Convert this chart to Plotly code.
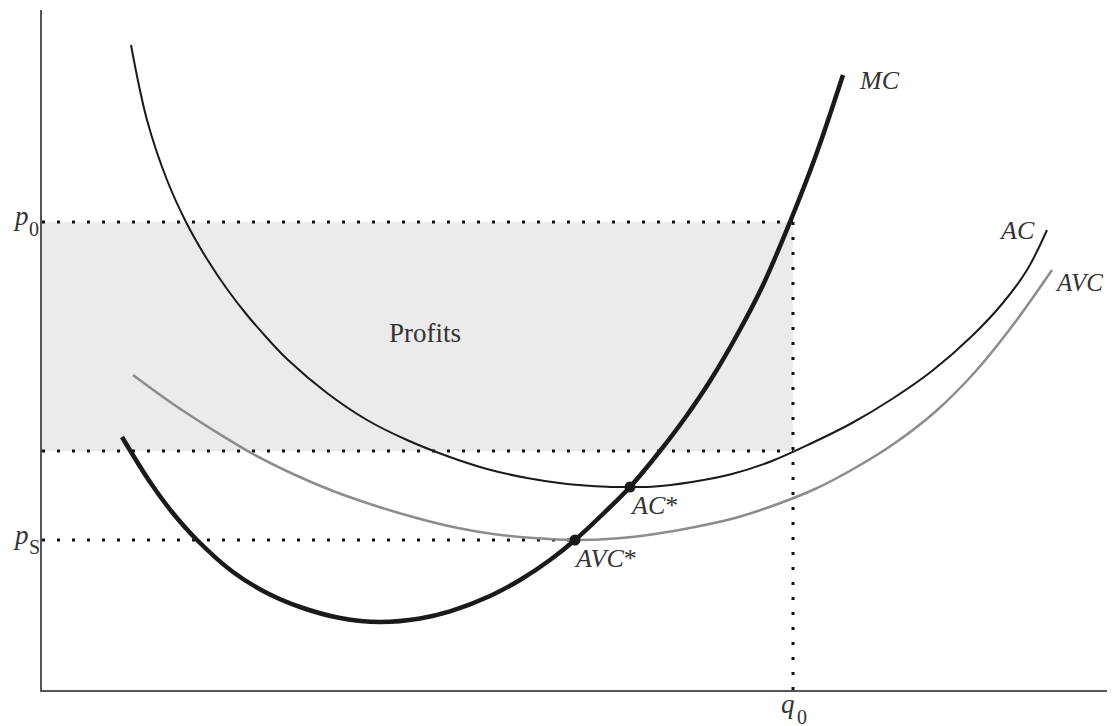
import plotly.graph_objects as go

# Coordinates: quantity (x) and price/cost (y) in chart units
mc_q = [80, 108, 130, 155, 191, 225, 258, 298, 338, 378, 408, 448, 478, 508, 533, 563, 588, 618, 643, 668, 695, 721, 748, 774, 801]
mc_c = [253, 208, 178, 150, 118, 97, 83, 72, 68, 71.5, 78.6, 94, 110, 130, 150, 178, 203, 239, 272, 309, 355, 405, 468, 535, 615]

ac_q = [89, 105, 125, 145, 165, 185, 205, 225, 245, 285, 325, 365, 405, 445, 485, 525, 565, 588, 610, 650, 690, 730, 770, 810, 850, 890, 930, 960, 985, 1005]
ac_c = [645, 570, 510, 466, 431, 401, 375, 352, 331, 297, 270, 250, 234, 221, 212, 206, 203.3, 203, 203.3, 208, 216, 229, 247, 267, 291, 319, 354, 386, 420, 460]

avc_q = [91, 131, 171, 211, 251, 291, 331, 371, 411, 451, 491, 533, 573, 613, 653, 693, 733, 773, 813, 853, 893, 933, 971, 1010]
avc_c = [315, 286, 260, 236, 216, 199, 185, 173, 163, 156, 152, 150, 151.5, 156, 163, 172, 185, 201, 222, 247, 278, 318, 365, 420]

p0 = 468
p_mid = 239
p_s = 150
q0 = 751
q_min = 533   # AVC minimum
q_ac = 588    # AC minimum
ac_star = 203
X_MAX = 1068
Y_MAX = 680

FONT = "Liberation Serif"

fig = go.Figure()

# Profits rectangle
fig.add_trace(go.Scatter(
    x=[0, q0, q0, 0, 0], y=[p_mid, p_mid, p0, p0, p_mid],
    fill="toself", fillcolor="#ebebeb", line=dict(width=0),
    mode="lines", hoverinfo="skip", showlegend=False))

dot = dict(color="#111", width=3, dash="3px,12px")
fig.add_trace(go.Scatter(x=[0, q0], y=[p0, p0], mode="lines", line=dot, showlegend=False))
fig.add_trace(go.Scatter(x=[0, q0], y=[p_mid, p_mid], mode="lines", line=dot, showlegend=False))
fig.add_trace(go.Scatter(x=[0, q_min], y=[p_s, p_s], mode="lines", line=dot, showlegend=False))
fig.add_trace(go.Scatter(x=[q0, q0], y=[p0, 0], mode="lines", line=dot, showlegend=False))

fig.add_trace(go.Scatter(x=avc_q, y=avc_c, mode="lines", line=dict(color="#8c8c8c", width=2.5, shape="spline"), showlegend=False))
fig.add_trace(go.Scatter(x=ac_q, y=ac_c, mode="lines", line=dict(color="#1a1a1a", width=2, shape="spline"), showlegend=False))
fig.add_trace(go.Scatter(x=mc_q, y=mc_c, mode="lines", line=dict(color="#1a1a1a", width=4.5, shape="spline"), showlegend=False))

fig.add_trace(go.Scatter(x=[q_min, q_ac], y=[p_s, ac_star], mode="markers",
                         marker=dict(color="#1a1a1a", size=11), showlegend=False))

def ann(x, y, text, size=26, xanchor="center", xref="x", yref="y"):
    fig.add_annotation(x=x, y=y, text=text, showarrow=False, xanchor=xanchor, yanchor="middle",
                       xref=xref, yref=yref,
                       font=dict(family=FONT, size=size, color="#333"))

# axis symbols (main letter + subscript), placed relative to the plot frame
ann(-21 / X_MAX, p0 + 6, "<i>p</i>", 27, xref="paper")
ann(-8 / X_MAX, p0 - 7, "0", 20, xref="paper")
ann(-21 / X_MAX, p_s + 5, "<i>p</i>", 27, xref="paper")
ann(-8 / X_MAX, p_s - 7, "S", 20, xref="paper")
ann(q0 - 5, -14 / Y_MAX, "<i>q</i>", 27, yref="paper")
ann(q0 + 9, -27 / Y_MAX, "0", 20, yref="paper")

ann(815, 610, "<i>MC</i>", 26, "left")
ann(995, 460, "<i>AC</i>", 26, "right")
ann(1011, 408, "<i>AVC</i>", 25, "left")
ann(383, 357, "Profits", 27)
ann(586, 185, "<i>AC</i>*", 26, "left")
ann(530, 132, "<i>AVC</i>*", 26, "left")

fig.update_xaxes(range=[0, X_MAX], showline=True, linecolor="#555", linewidth=2,
                 showgrid=False, zeroline=False, showticklabels=False, ticks="")
fig.update_yaxes(range=[0, Y_MAX], showline=True, linecolor="#555", linewidth=2,
                 showgrid=False, zeroline=False, showticklabels=False, ticks="")

fig.update_layout(width=1115, height=726, margin=dict(l=34, r=13, t=2, b=44),
                  plot_bgcolor="white", paper_bgcolor="white", showlegend=False)

fig.write_html("out.html")
